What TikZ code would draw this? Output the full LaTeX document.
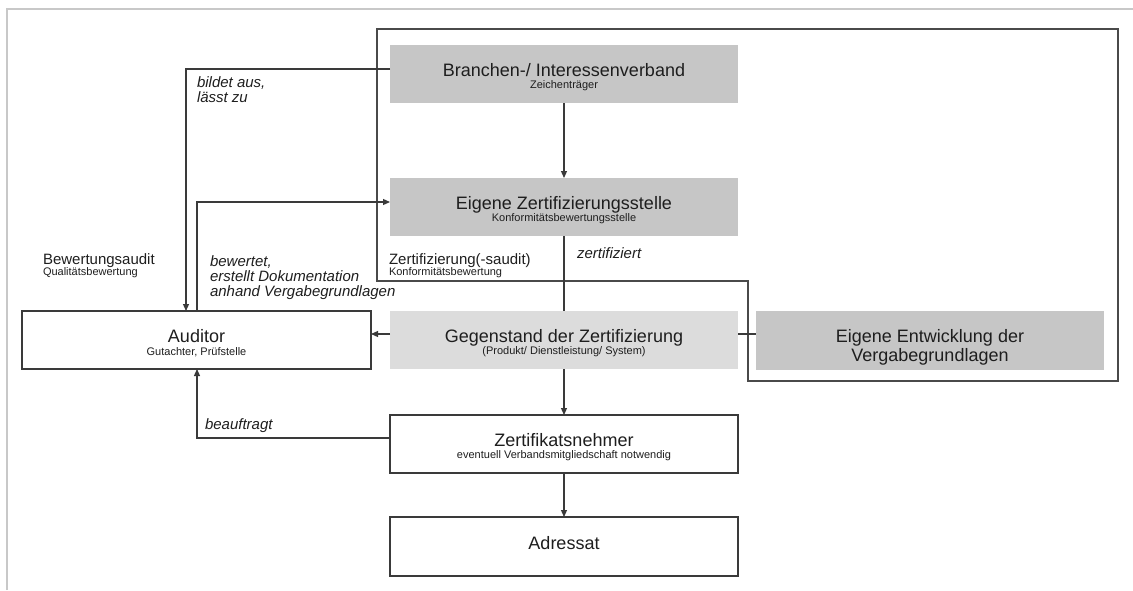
\documentclass[tikz,border=0pt]{standalone}
\usepackage{fontspec}
\setmainfont{Liberation Sans}
\usetikzlibrary{arrows.meta}

\definecolor{ink}{HTML}{1E1E1E}
\definecolor{linegray}{HTML}{3A3A3A}
\definecolor{framegray}{HTML}{4A4A4A}
\definecolor{boxdark}{HTML}{C6C6C6}
\definecolor{boxlight}{HTML}{DCDCDC}
\definecolor{pagerule}{HTML}{C8C8C8}

% small second line inside a box
\newcommand\boxsub[1]{{\fontsize{11}{13}\selectfont #1}}
% lifts the first line of a box
\newcommand\liftA{\rule{0pt}{19pt}}
\newcommand\liftB{\rule{0pt}{12pt}}
\setlength{\lineskiplimit}{-20pt}

\begin{document}
\begin{tikzpicture}[x=1pt,y=-1pt,
  every node/.style={text=ink, inner sep=0pt, outer sep=0pt},
  unit/.style={minimum width=348pt, minimum height=58pt, anchor=north west,
    align=center, font=\fontsize{18}{12.5}\selectfont},
  shaded/.style={unit, fill=boxdark},
  pale/.style={unit, fill=boxlight},
  plain/.style={unit, draw=linegray, line width=1.2pt, fill=white},
  note/.style={anchor=north west, align=left, font=\fontsize{15}{15}\selectfont\itshape},
  tag/.style={anchor=north west, align=left, font=\fontsize{15}{11.5}\selectfont},
  link/.style={draw=linegray, line width=1.2pt},
  arr/.style={link, -{Triangle[length=7pt,width=6pt]}},
  frame/.style={draw=framegray, line width=1.3pt},
]
\useasboundingbox (0,0) rectangle (1133,590);

% page rule along top and left
\draw[pagerule, line width=2pt] (7,590) -- (7,9) -- (1133,9);

% stepped frame around the association side
\draw[frame] (377,29) -- (1118,29) -- (1118,381) -- (748,381) -- (748,281) -- (377,281) -- cycle;

% boxes
\node[shaded] (brv) at (390,45) {\liftA Branchen-/ Interessenverband\\\boxsub{Zeichenträger}};
\node[shaded] (ezs) at (390,178) {\liftA Eigene Zertifizierungsstelle\\\boxsub{Konformitätsbewertungsstelle}};
\node[pale] (geg) at (390,311) {\liftA Gegenstand der Zertifizierung\\\boxsub{(Produkt/ Dienstleistung/ System)}};
\node[shaded, minimum height=59pt, font=\fontsize{18}{19}\selectfont] (eew) at (756,311)
  {\rule{0pt}{26pt}Eigene Entwicklung der\\Vergabegrundlagen};
\node[plain, minimum width=349pt] (aud) at (22,311) {\liftA Auditor\\\boxsub{Gutachter, Prüfstelle}};
\node[plain] (zn) at (390,415) {\liftA Zertifikatsnehmer\\\boxsub{eventuell Verbandsmitgliedschaft notwendig}};
\node[plain, minimum height=59pt] (adr) at (390,517) {Adressat\rule[-7pt]{0pt}{7pt}};

% free labels
\node[tag] (lbaud) at (43,252) {\liftB Bewertungsaudit\\\boxsub{Qualitätsbewertung}};
\node[tag] (lzert) at (389,252.3) {\liftB Zertifizierung(-saudit)\\\boxsub{Konformitätsbewertung}};
\node[note] (lbild) at (197,75.3) {\liftB bildet aus,\\lässt zu};
\node[note] (lbew) at (210,254) {\liftB bewertet,\\erstellt Dokumentation\\anhand Vergabegrundlagen};
\node[note] (lbeau) at (205,417.5) {\liftB beauftragt};
\node[note] (lzfz) at (577,246.3) {\liftB zertifiziert};

% routing points
\coordinate (ra) at (186,69);
\coordinate (rb) at (197,202);
\coordinate (rc) at (197,438);
\coordinate (rd) at (0,334);

% connectors
\draw[arr] (brv.west |- ra) -| (aud.north -| ra);
\draw[arr] (aud.north -| rb) |- (ezs.west |- rb);
\draw[arr] (brv.south) -- (ezs.north);
\draw[link] (ezs.south) -- (geg.north);
\draw[arr] (geg.west |- rd) -- (aud.east |- rd);
\draw[link] (geg.east |- rd) -- (eew.west |- rd);
\draw[arr] (geg.south) -- (zn.north);
\draw[arr] (zn.west |- rc) -| (aud.south -| rc);
\draw[arr] (zn.south) -- (adr.north);
\end{tikzpicture}
\end{document}
